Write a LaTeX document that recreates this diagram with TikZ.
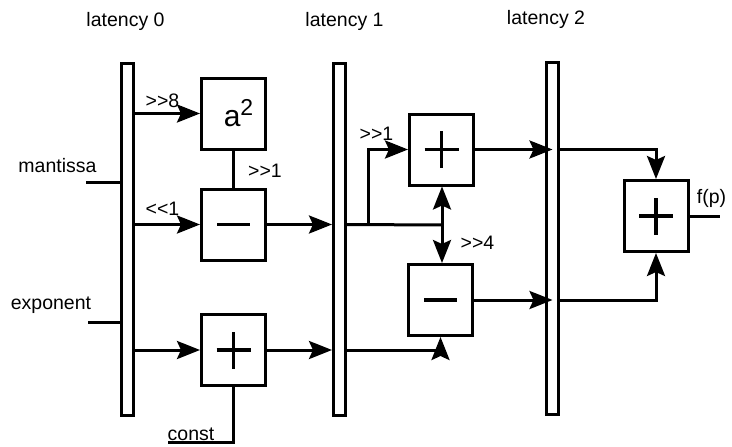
\documentclass[tikz,border=0pt]{standalone}
\usepackage{fontspec}
\setmainfont{Liberation Sans}[Ligatures=TeXOff]
\usetikzlibrary{arrows.meta}

\tikzset{
  regbar/.style={draw, minimum width=12pt, minimum height=352pt, inner sep=0pt},
  opbox/.style={draw, minimum width=64pt, minimum height=71pt, inner sep=0pt},
  plusbox/.style={opbox, path picture={
      \draw[line width=3.5pt] ([xshift=-17pt]path picture bounding box.center) -- ++(34pt,0pt)
        ([yshift=-18.5pt]path picture bounding box.center) -- ++(0pt,37pt);}},
  minusbox/.style={opbox, path picture={
      \draw[line width=3.5pt] ([xshift=-16.5pt]path picture bounding box.center) -- ++(33pt,0pt);}},
  lbl/.style={font=\fontsize{19.5}{19.5}\selectfont, inner sep=0pt, anchor=base}
}

\begin{document}
\begin{tikzpicture}[line width=3pt, >={Stealth[length=23pt,width=18pt,inset=4pt]}, x=1pt, y=-1pt]
  \useasboundingbox (0,0) rectangle (732,447);

  % pipeline registers
  \node[regbar] (r0) at (127.5,239.5) {};
  \node[regbar] (r1) at (339.5,239.5) {};
  \node[regbar] (r2) at (552.5,238.5) {};
  \node[lbl] (lat0) at (125.5,27) {latency 0};
  \node[lbl] (lat1) at (344.5,27) {latency 1};
  \node[lbl] (lat2) at (546,24) {latency 2};

  % operators
  \node[opbox, font=\fontsize{30}{30}\selectfont] (sq) at (233.5,113.5)
    {\hspace*{10pt}a\raisebox{11pt}{\fontsize{23}{23}\selectfont 2}};
  \node[minusbox] (sub0) at (233.5,224.5) {};
  \node[plusbox] (add0) at (233.5,350) {};
  \node[plusbox] (add1) at (441.5,149.5) {};
  \node[minusbox] (sub1) at (440.5,300) {};
  \node[plusbox] (add2) at (656,216) {};

  % inputs / output
  \coordinate (min) at (86,182);
  \coordinate (ein) at (88,322);
  \coordinate (cin) at (168,442);
  \coordinate (fout) at (720,216);
  \node[lbl] (mant) at (57.5,172) {mantissa};
  \node[lbl] (expo) at (51,309) {exponent};
  \node[lbl] (cnst) at (191,440) {const};
  \node[lbl] (fp) at (711.5,203) {f(p)};

  % stage 0
  \draw (min) -- (min -| r0.west);
  \draw (ein) -- (ein -| r0.west);
  \draw[->] (r0.east |- sq.west) -- (sq.west);
  \draw[->] (r0.east |- sub0.west) -- (sub0.west);
  \draw[->] (r0.east |- add0.west) -- (add0.west);
  \draw (sq.south) -- (sub0.north);
  \draw (add0.south) |- (cin);
  \node[lbl] (sh8) at (162.5,107) {>>8};
  \node[lbl] (shl1) at (162.5,215) {<<1};
  \node[lbl] (shr1a) at (265,177) {>>1};
  \draw[->] (sub0.east) -- (sub0.east -| r1.west);
  \draw[->] (add0.east) -- (add0.east -| r1.west);

  % stage 1
  \coordinate (fork) at (442,225);
  \coordinate (tap) at (368,225);
  \draw (r1.east |- sub0.east) -- (fork);
  \draw[->] (fork) -- (fork |- add1.south);
  \draw[->] (fork) -- (fork |- sub1.north);
  \draw[->] (tap) |- (add1.west);
  \draw[->] (r1.east |- add0.east) -| (sub1.south);
  \node[lbl] (shr1b) at (376.5,140) {>>1};
  \node[lbl] (shr4) at (477.5,249) {>>4};
  \draw[->] (add1.east) -- (add1.east -| r2);
  \draw[->] (sub1.east) -- (sub1.east -| r2);

  % stage 2
  \draw[->] (r2.east |- add1.east) -| (add2.north);
  \draw[->] (r2.east |- sub1.east) -| (add2.south);
  \draw (add2.east) -- (fout);
\end{tikzpicture}
\end{document}
